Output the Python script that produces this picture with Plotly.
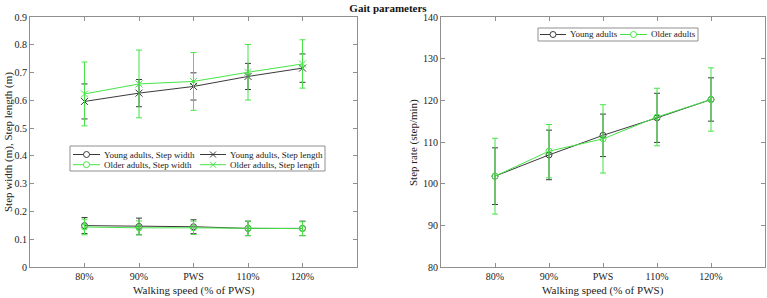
import plotly.graph_objects as go

# ---------------- data ----------------
categories = ["80%", "90%", "PWS", "110%", "120%"]

young_width = [0.149, 0.146, 0.145, 0.139, 0.139]
young_width_sd = [0.029, 0.030, 0.025, 0.026, 0.026]
older_width = [0.144, 0.141, 0.141, 0.139, 0.138]
older_width_sd = [0.028, 0.025, 0.024, 0.026, 0.025]

young_length = [0.596, 0.626, 0.650, 0.686, 0.716]
young_length_sd = [0.063, 0.049, 0.049, 0.047, 0.051]
older_length = [0.623, 0.659, 0.668, 0.701, 0.731]
older_length_sd = [0.115, 0.122, 0.104, 0.100, 0.087]

young_rate = [101.8, 106.9, 111.6, 115.8, 120.2]
young_rate_sd = [6.8, 5.95, 5.1, 5.9, 5.2]
older_rate = [101.8, 107.8, 110.75, 116.0, 120.2]
older_rate_sd = [9.1, 6.4, 8.2, 6.9, 7.6]

legend_left = ["Young adults, Step width", "Older adults, Step width",
               "Young adults, Step length", "Older adults, Step length"]
legend_right = ["Young adults", "Older adults"]

# ---------------- style ----------------
BLACK = "#3a3a3a"
GREEN = "rgb(70,228,70)"
AXC = "#8f8f8f"
FONT = "Liberation Serif"
W, H = 767, 298
ML, MR, MT, MB = 30, 2, 17, 31
PW, PH = W - ML - MR, H - MT - MB


def X(px):
    return (px - ML) / PW


def Y(py):
    return (H - MB - py) / PH


def series(x, y, sd, color, symbol, xa, ya, name):
    return go.Scatter(
        x=x, y=y, name=name, mode="lines+markers", xaxis=xa, yaxis=ya,
        line=dict(color=color, width=1),
        marker=dict(symbol=symbol, size=7 if "x" in symbol else 6, color=color,
                    line=dict(color=color, width=1)),
        error_y=dict(type="data", array=sd, visible=True, color=color,
                     thickness=1, width=3),
        showlegend=False,
    )


fig = go.Figure()
fig.add_trace(series(categories, young_width, young_width_sd, BLACK, "circle-open", "x", "y", legend_left[0]))
fig.add_trace(series(categories, older_width, older_width_sd, GREEN, "circle-open", "x", "y", legend_left[1]))
fig.add_trace(series(categories, young_length, young_length_sd, BLACK, "x-thin-open", "x", "y", legend_left[2]))
fig.add_trace(series(categories, older_length, older_length_sd, GREEN, "x-thin-open", "x", "y", legend_left[3]))
fig.add_trace(series(categories, young_rate, young_rate_sd, BLACK, "circle-open", "x2", "y2", legend_right[0]))
fig.add_trace(series(categories, older_rate, older_rate_sd, GREEN, "circle-open", "x2", "y2", legend_right[1]))

axis_common = dict(showline=True, linecolor=AXC, linewidth=1, mirror="ticks",
                   ticks="inside", ticklen=4, tickcolor=AXC, showgrid=False,
                   zeroline=False, tickfont=dict(family=FONT, size=10, color="#222"))

fig.update_layout(
    width=W, height=H,
    margin=dict(l=ML, r=MR, t=MT, b=MB),
    paper_bgcolor="white", plot_bgcolor="white",
    font=dict(family=FONT, color="#222"),
    showlegend=False,
    title=dict(text="<b>Gait parameters</b>", x=388 / W, xanchor="center",
               y=1 - 8 / H, yanchor="middle", font=dict(family=FONT, size=11, color="#111")),
    xaxis=dict(domain=[0, X(357)], type="category", range=[-1, 5], **axis_common),
    yaxis=dict(domain=[0, 1], range=[0, 0.9], dtick=0.1, anchor="x", **axis_common),
    xaxis2=dict(domain=[X(441), 1], type="category", range=[-1, 5], anchor="y2", **axis_common),
    yaxis2=dict(domain=[0, 1], range=[80, 140], dtick=10, anchor="x2", **axis_common),
)

shapes = []
annotations = []


def text(s, x, y, size, angle=0, xanchor="center"):
    annotations.append(dict(text=s, x=x, y=y, xref="paper", yref="paper", showarrow=False,
                            xanchor=xanchor, yanchor="middle", textangle=angle,
                            font=dict(family=FONT, size=size, color="#222")))


# axis titles
text("Walking speed (% of PWS)", X(193.5), Y(290), 11)
text("Walking speed (% of PWS)", X(603), Y(290), 11)
text("Step width (m), Step length (m)", X(8), Y(142), 11, angle=-90)
text("Step rate (step/min)", X(413), Y(142), 11, angle=-90)


def box(x0, y0, x1, y1):
    shapes.append(dict(type="rect", xref="paper", yref="paper", x0=X(x0), x1=X(x1),
                       y0=Y(y1), y1=Y(y0), line=dict(color=AXC, width=1), fillcolor="white",
                       layer="above"))


def entry(lx0, lx1, cy, color, symbol, label):
    shapes.append(dict(type="line", xref="paper", yref="paper", x0=X(lx0), x1=X(lx1),
                       y0=Y(cy), y1=Y(cy), line=dict(color=color, width=1), layer="above"))
    cx = (lx0 + lx1) / 2
    r = 3
    if symbol == "circle":
        shapes.append(dict(type="circle", xref="paper", yref="paper", x0=X(cx - r), x1=X(cx + r),
                           y0=Y(cy + r), y1=Y(cy - r), line=dict(color=color, width=1),
                           fillcolor="white", layer="above"))
    else:
        shapes.append(dict(type="line", xref="paper", yref="paper", x0=X(cx - r), x1=X(cx + r),
                           y0=Y(cy + r), y1=Y(cy - r), line=dict(color=color, width=1), layer="above"))
        shapes.append(dict(type="line", xref="paper", yref="paper", x0=X(cx - r), x1=X(cx + r),
                           y0=Y(cy - r), y1=Y(cy + r), line=dict(color=color, width=1), layer="above"))
    text(label, X(lx1 + 2), Y(cy), 9, xanchor="left")


# left legend
box(70, 146, 325, 171)
entry(73, 100, 154.5, BLACK, "circle", legend_left[0])
entry(73, 100, 164.7, GREEN, "circle", legend_left[1])
entry(200, 226, 154.5, BLACK, "x", legend_left[2])
entry(200, 226, 164.7, GREEN, "x", legend_left[3])

# right legend
box(538, 28, 698, 41)
entry(540, 566, 34.5, BLACK, "circle", legend_right[0])
entry(620, 647, 34.5, GREEN, "circle", legend_right[1])

fig.update_layout(shapes=shapes, annotations=annotations)
fig.write_html("out.html")
